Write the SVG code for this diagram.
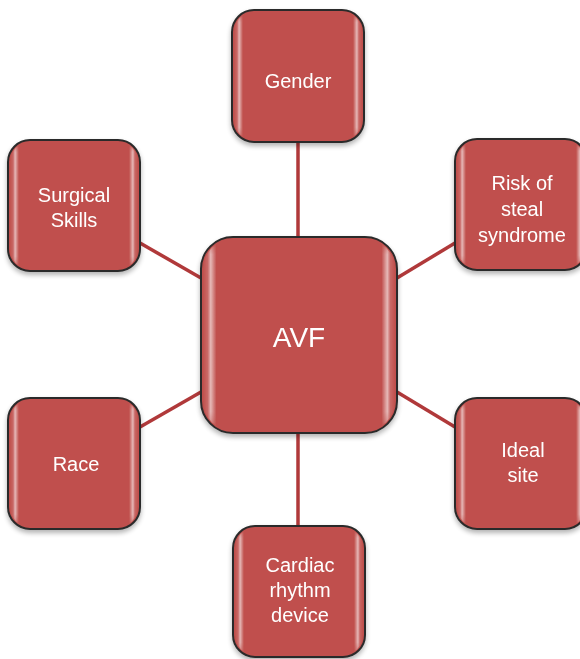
<svg xmlns="http://www.w3.org/2000/svg" width="580" height="659" viewBox="0 0 580 659">
  <defs>
    <!-- glossy side bands of each tile -->
    <linearGradient id="gloss" x1="0" y1="0" x2="1" y2="0">
      <stop offset="0" stop-color="#ffffff" stop-opacity="0"/>
      <stop offset="0.025" stop-color="#ffffff" stop-opacity="0.15"/>
      <stop offset="0.04" stop-color="#ffffff" stop-opacity="0.6"/>
      <stop offset="0.07" stop-color="#ffffff" stop-opacity="0"/>
      <stop offset="0.93" stop-color="#ffffff" stop-opacity="0"/>
      <stop offset="0.96" stop-color="#ffffff" stop-opacity="0.6"/>
      <stop offset="0.975" stop-color="#ffffff" stop-opacity="0.15"/>
      <stop offset="1" stop-color="#ffffff" stop-opacity="0"/>
    </linearGradient>
    <linearGradient id="fade" x1="0" y1="0" x2="0" y2="1">
      <stop offset="0" stop-color="#fff" stop-opacity="0.2"/>
      <stop offset="0.08" stop-color="#fff" stop-opacity="1"/>
      <stop offset="0.9" stop-color="#fff" stop-opacity="1"/>
      <stop offset="1" stop-color="#fff" stop-opacity="0.3"/>
    </linearGradient>
    <mask id="fadeMask" maskContentUnits="objectBoundingBox">
      <rect x="0" y="0" width="1" height="1" fill="url(#fade)"/>
    </mask>
    <filter id="shadow" x="-10%" y="-10%" width="120%" height="125%">
      <feGaussianBlur in="SourceAlpha" stdDeviation="2.5"/>
      <feOffset dx="0" dy="3" result="b"/>
      <feComponentTransfer><feFuncA type="linear" slope="0.3"/></feComponentTransfer>
      <feMerge><feMergeNode/><feMergeNode in="SourceGraphic"/></feMerge>
    </filter>
  </defs>
  <style>
    .box { fill: #c0504d; stroke: #2b2b2b; stroke-width: 2; }
    .gl { fill: url(#gloss); mask: url(#fadeMask); }
    .link { stroke: #b0393a; stroke-width: 3.5; fill: none; }
    .lbl { font-family: "Liberation Sans", Arial, sans-serif; font-size: 20px; fill: #ffffff; text-anchor: middle; }
    .big { font-size: 28px; }
  </style>

  <!-- connectors -->
  <g id="connectors">
    <line class="link" x1="298" y1="142" x2="298" y2="237"/>
    <line class="link" x1="298" y1="433" x2="298" y2="526"/>
    <line class="link" x1="140" y1="243" x2="201" y2="278"/>
    <line class="link" x1="455" y1="243" x2="397" y2="278"/>
    <line class="link" x1="140" y1="427" x2="201" y2="392"/>
    <line class="link" x1="455" y1="427" x2="397" y2="392"/>
  </g>

  <g id="avf" filter="url(#shadow)">
    <rect class="box" x="201" y="237" width="196" height="196" rx="32"/>
    <rect class="gl" x="203" y="239" width="192" height="192" rx="30"/>
    <text class="lbl big" x="299" y="347">AVF</text>
  </g>

  <g id="gender" filter="url(#shadow)">
    <rect class="box" x="232" y="10" width="132" height="132" rx="22"/>
    <rect class="gl" x="234" y="12" width="128" height="128" rx="20"/>
    <text class="lbl" x="298" y="88">Gender</text>
  </g>

  <g id="surgical-skills" filter="url(#shadow)">
    <rect class="box" x="8" y="140" width="132" height="131" rx="22"/>
    <rect class="gl" x="10" y="142" width="128" height="127" rx="20"/>
    <text class="lbl" x="74" y="202">Surgical</text>
    <text class="lbl" x="74" y="227">Skills</text>
  </g>

  <g id="steal-syndrome" filter="url(#shadow)">
    <rect class="box" x="455" y="139" width="132" height="131" rx="22"/>
    <rect class="gl" x="457" y="141" width="128" height="127" rx="20"/>
    <text class="lbl" x="522" y="190">Risk of</text>
    <text class="lbl" x="522" y="216">steal</text>
    <text class="lbl" x="522" y="242">syndrome</text>
  </g>

  <g id="race" filter="url(#shadow)">
    <rect class="box" x="8" y="398" width="132" height="131" rx="22"/>
    <rect class="gl" x="10" y="400" width="128" height="127" rx="20"/>
    <text class="lbl" x="76" y="471">Race</text>
  </g>

  <g id="ideal-site" filter="url(#shadow)">
    <rect class="box" x="455" y="398" width="132" height="131" rx="22"/>
    <rect class="gl" x="457" y="400" width="128" height="127" rx="20"/>
    <text class="lbl" x="523" y="457">Ideal</text>
    <text class="lbl" x="523" y="482">site</text>
  </g>

  <g id="cardiac-device" filter="url(#shadow)">
    <rect class="box" x="233" y="526" width="132" height="131" rx="22"/>
    <rect class="gl" x="235" y="528" width="128" height="127" rx="20"/>
    <text class="lbl" x="300" y="572">Cardiac</text>
    <text class="lbl" x="300" y="597">rhythm</text>
    <text class="lbl" x="300" y="622">device</text>
  </g>
</svg>
